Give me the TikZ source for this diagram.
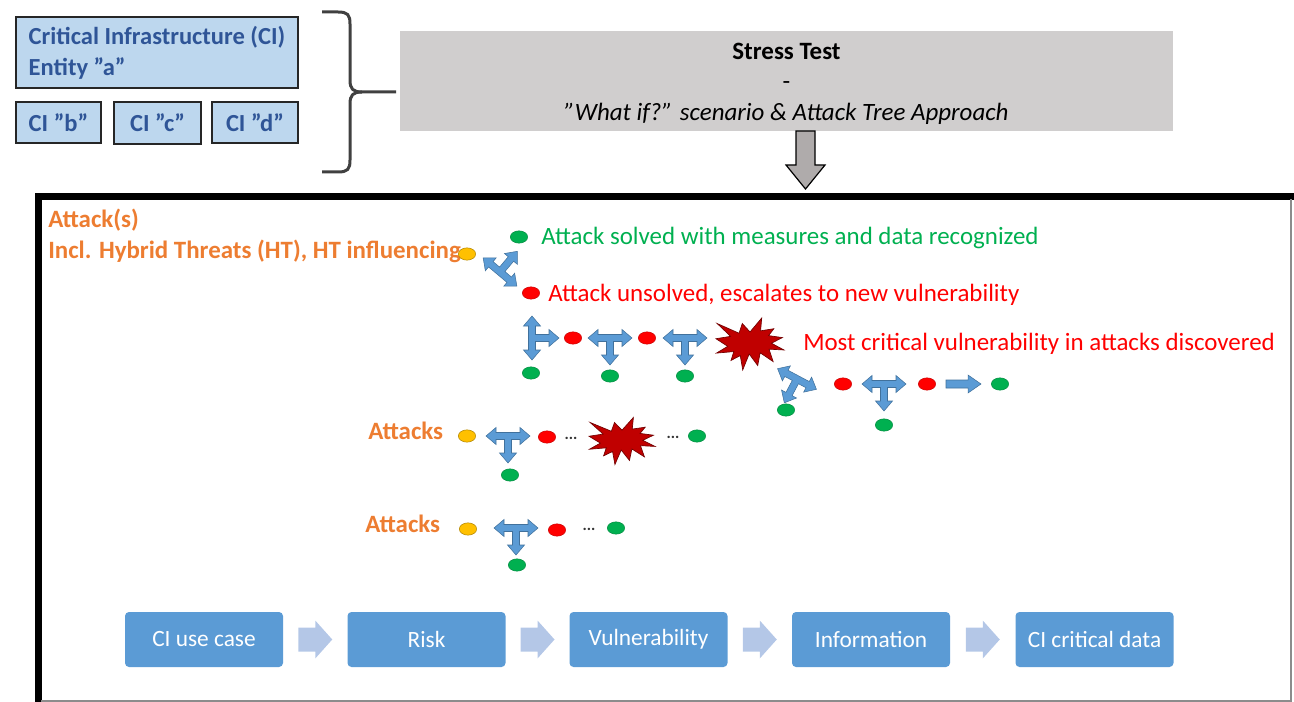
\documentclass[tikz,border=0pt]{standalone}
\usepackage{fontspec}
\setmainfont{Carlito}
\usetikzlibrary{calc,shapes.geometric}
\definecolor{ciblue}{HTML}{BDD7EE}
\definecolor{citext}{HTML}{2F5597}
\definecolor{stressgray}{HTML}{D0CECE}
\definecolor{arrgray}{HTML}{AFABAB}
\definecolor{tblue}{HTML}{5B9BD5}
\definecolor{tbluedk}{HTML}{41719C}
\definecolor{procblue}{HTML}{5B9BD5}
\definecolor{chev}{HTML}{B4C7E7}
\definecolor{attor}{HTML}{ED7D31}
\definecolor{dgreen}{HTML}{00B050}
\definecolor{dred}{HTML}{FF0000}
\definecolor{dyellow}{HTML}{FFC000}
\definecolor{burstred}{HTML}{C00000}
\definecolor{bracegray}{HTML}{404040}
\begin{document}
\begin{tikzpicture}[x=0.75pt,y=-0.75pt,
  every node/.style={font=\fontsize{18.7pt}{22pt}\selectfont},
  cibox/.style={draw=black!85, line width=1.5pt, fill=ciblue, text=citext,
    font=\fontsize{18.4pt}{23.25pt}\selectfont\bfseries, inner sep=0pt},
  dot/.style={ellipse, minimum width=13pt, minimum height=9.2pt, inner sep=0pt, line width=0.4pt},
  gdot/.style={dot, fill=dgreen, draw=dgreen!80!black},
  rdot/.style={dot, fill=dred, draw=dred!80!black},
  ydot/.style={dot, fill=dyellow, draw=dyellow!70!black},
  lbl/.style={anchor=west, inner sep=0pt},
  orangelbl/.style={lbl, text=attor, font=\fontsize{18.7pt}{22pt}\selectfont\bfseries},
  ellip/.style={inner sep=0pt, font=\fontsize{12pt}{14pt}\selectfont\bfseries, text=black!80},
  procbox/.style={fill=procblue, rounded corners=3pt, minimum width=118.5pt,
    minimum height=41.25pt, text=white, font=\fontsize{17.5pt}{20pt}\selectfont, inner sep=0pt},
  tarrow/.pic={\filldraw[fill=tblue, draw=tbluedk, line width=0.4pt]
    (-22,0) -- (-12,-8.5) -- (-12,-3.5) -- (12,-3.5) -- (12,-8.5) -- (22,0) -- (12,8.5) -- (12,3.5)
    -- (3.5,3.5) -- (3.5,17) -- (8.5,17) -- (0,27) -- (-8.5,17) -- (-3.5,17) -- (-3.5,3.5)
    -- (-12,3.5) -- (-12,8.5) -- cycle;},
  rarrow/.pic={\filldraw[fill=tblue, draw=tbluedk, line width=0.4pt]
    (0,-4) -- (22,-4) -- (22,-9) -- (35,0) -- (22,9) -- (22,4) -- (0,4) -- cycle;},
  chevarrow/.pic={\fill[chev]
    (-17,-12) -- (0,-12) -- (0,-19) -- (17,0) -- (0,19) -- (0,12) -- (-17,12) -- cycle;},
  burst/.pic={\filldraw[fill=burstred, draw=burstred!60!black, line width=0.5pt]
    (0,-0.2315) -- (0.1723,-0.5) -- (0.1553,-0.2535) -- (0.3509,-0.2937) -- (0.2732,-0.1613)
    -- (0.4767,-0.1233) -- (0.3151,-0.0150) -- (0.5,0.1153) -- (0.2795,0.0992) -- (0.3400,0.3377)
    -- (0.1491,0.1693) -- (0.1133,0.4138) -- (-0.0124,0.1914) -- (-0.1072,0.5) -- (-0.1428,0.2235)
    -- (-0.2795,0.3156) -- (-0.2376,0.1452) -- (-0.4938,0.1753) -- (-0.3277,0.0451) -- (-0.5,-0.1012)
    -- (-0.2858,-0.1474) -- (-0.4829,-0.3937) -- (-0.1615,-0.2074) -- (-0.1133,-0.3937) -- cycle;},
]
\useasboundingbox (0,0) rectangle (1294,702);

% CI entity boxes
\node[cibox, minimum width=211.5pt, minimum height=53.25pt, align=left]
  (cia) at (157,52.5) {Critical Infrastructure (CI)\\Entity ”a”};
\node[cibox, minimum width=63.75pt, minimum height=30.75pt] (cib) at (58.5,122.5) {CI ”b”};
\node[cibox, minimum width=65.25pt, minimum height=31.5pt] (cic) at (157.5,123) {CI ”c”};
\node[cibox, minimum width=64.5pt, minimum height=30.75pt] (cid) at (255,122.5) {CI ”d”};

% brace
\draw[bracegray, line width=2.25pt]
  (322,12) -- (338,12) .. controls (348,12) and (350,15) .. (350,24) -- (350,80)
  .. controls (350,89) and (353,92) .. (362,92) -- (396,92);
\draw[bracegray, line width=2.25pt]
  (322,172) -- (338,172) .. controls (348,172) and (350,169) .. (350,160) -- (350,104)
  .. controls (350,95) and (353,92) .. (362,92);

% stress test box
\node[fill=stressgray, minimum width=579.75pt, minimum height=75pt, inner sep=0pt] (stress) at (786.5,81) {};
\node[align=center, inner sep=0pt, font=\fontsize{18.7pt}{22.9pt}\selectfont] (stresstxt) at (786.5,83.5)
  {\textbf{Stress Test}\\-\\\textit{”What if?” scenario \& Attack Tree Approach}};

% down arrow
\filldraw[fill=arrgray, draw=black, line width=0.9pt]
  (796,131) -- (815,131) -- (815,165) -- (825,165) -- (805.5,189) -- (786,165) -- (796,165) -- cycle;

% frame
\draw[black, line width=5.25pt] (38,702) -- (38,196.5) -- (1294,196.5);
\draw[black!45, line width=1.5pt] (1291,199) -- (1291,701) -- (41,701);

% labels
\node[orangelbl] (att) at (48,220) {Attack(s)};
\node[orangelbl] (incl) at (48,251) {Incl. Hybrid Threats (HT), HT influencing};

% row 0
\node[ydot] (y1) at (467,254) {};
\node[gdot] (g0) at (519,237) {};
\node[rdot] (r0) at (531,293) {};
\pic[rotate=140] at (500,272) {tarrow};
\node[lbl, text=dgreen] (solved) at (541,238) {Attack solved with measures and data recognized};
\node[lbl, text=dred] (unsolved) at (548,295) {Attack unsolved, escalates to new vulnerability};

% row 1
\pic[rotate=90] at (532,338) {tarrow};
\node[gdot] (g1a) at (531,373) {};
\node[rdot] (r1a) at (573,338) {};
\pic at (610,338) {tarrow};
\node[gdot] (g1b) at (610,376) {};
\node[rdot] (r1b) at (647,338) {};
\pic at (685,338) {tarrow};
\node[gdot] (g1c) at (685,376) {};
\pic[xscale=68, yscale=52] at (750,344) {burst};
\node[lbl, text=dred] (critical) at (803,344) {Most critical vulnerability in attacks discovered};
\pic[rotate=-28] at (797,379) {tarrow};
\node[gdot] (g1d) at (786,410) {};
\node[rdot] (r1c) at (843,384) {};
\pic at (884,384) {tarrow};
\node[gdot] (g1e) at (884,425) {};
\node[rdot] (r1d) at (927,384) {};
\pic at (946,384) {rarrow};
\node[gdot] (g1f) at (1000,384) {};

% row 2
\node[orangelbl] (att2) at (368,431) {Attacks};
\node[ydot] (y2) at (467,436) {};
\pic at (508,436) {tarrow};
\node[gdot] (g2a) at (510,475) {};
\node[rdot] (r2a) at (547,437) {};
\node[ellip] (e2a) at (571,438) {...};
\pic[xscale=66, yscale=47] at (622,441) {burst};
\node[ellip] (e2b) at (673,437) {...};
\node[gdot] (g2b) at (697,436) {};

% row 3
\node[orangelbl] (att3) at (365,524) {Attacks};
\node[ydot] (y3) at (468,529) {};
\pic at (516,528) {tarrow};
\node[gdot] (g3a) at (517,565) {};
\node[rdot] (r3a) at (557,530) {};
\node[ellip] (e3a) at (589,529) {...};
\node[gdot] (g3b) at (616,528) {};

% process
\node[procbox] (p1) at (204,639.5) {CI use case};
\node[procbox] (p2) at (426.5,639.5) {Risk};
\node[procbox] (p3) at (648.5,639.5) {Vulnerability};
\node[procbox] (p4) at (871,639.5) {Information};
\node[procbox] (p5) at (1094.5,639.5) {CI critical data};
\pic at ($(p1.east)!0.5!(p2.west)$) {chevarrow};
\pic at ($(p2.east)!0.5!(p3.west)$) {chevarrow};
\pic at ($(p3.east)!0.5!(p4.west)$) {chevarrow};
\pic at ($(p4.east)!0.5!(p5.west)$) {chevarrow};
\end{tikzpicture}
\end{document}
